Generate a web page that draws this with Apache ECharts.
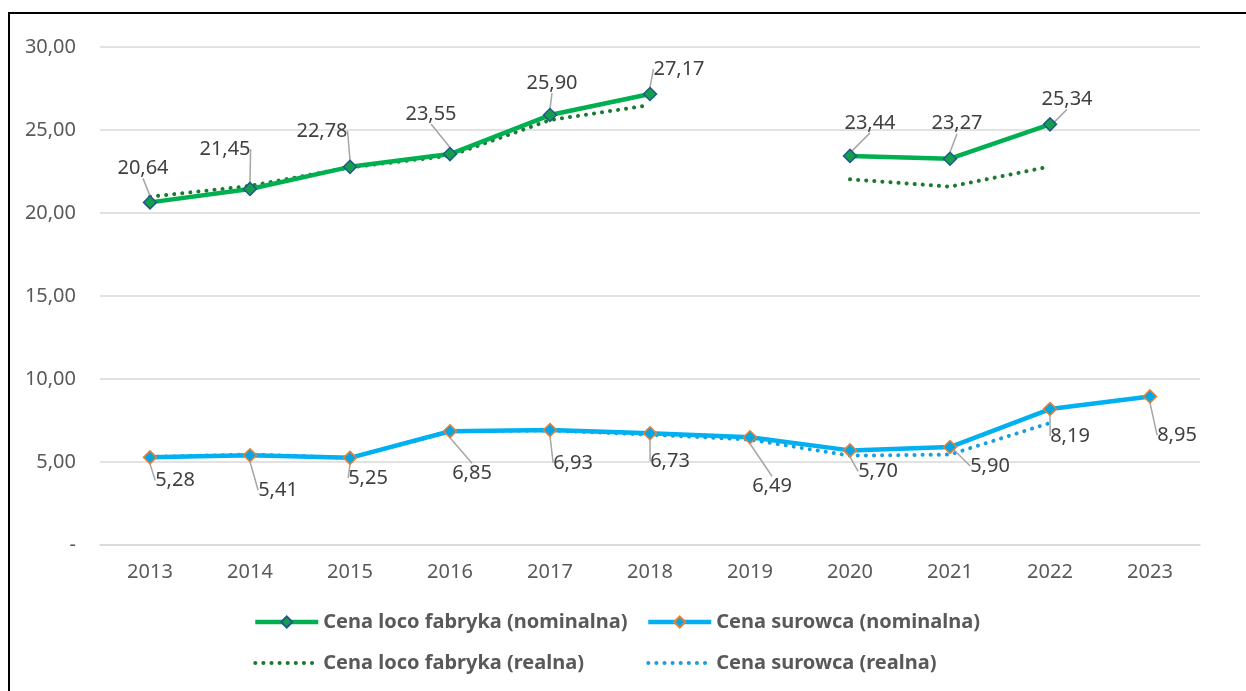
<!DOCTYPE html>
<html>
<head>
<meta charset="utf-8">
<script src="https://cdn.jsdelivr.net/npm/echarts@6/dist/echarts.min.js"></script>
<style>
  html, body { margin: 0; padding: 0; background: #fff; }
  #chart { width: 1246px; height: 691px; }
</style>
</head>
<body>
<div id="chart"></div>
<script>
const years = ['2013', '2014', '2015', '2016', '2017', '2018', '2019', '2020', '2021', '2022', '2023']
// ceny nominalne i realne
const fabrykaNominalna = [20.64, 21.45, 22.78, 23.55, 25.90, 27.17, null, 23.44, 23.27, 25.34, null]
const fabrykaRealna = [20.98, 21.63, 22.75, 23.45, 25.6, 26.5, null, 22.03, 21.59, 22.8, null]
const surowiecNominalna = [5.28, 5.41, 5.25, 6.85, 6.93, 6.73, 6.49, 5.70, 5.90, 8.19, 8.95]
const surowiecRealna = [5.3, 5.45, 5.25, 6.85, 6.9, 6.65, 6.35, 5.38, 5.45, 7.35, null]

// przesunięcia etykiet [dx, dy]
const fabrykaOffsets = [[-7, -34], [-25, -40], [-28, -36], [-19, -40], [2, -32], [29, -25], [0, 0], [20, -33], [7, -35], [17, -25], [0, 0]]
const surowiecOffsets = [[25, 23], [28, 35], [18, 20], [22, 42], [23, 33], [20, 28], [22, 49], [28, 21], [40, 19], [20, 27], [27, 39]]

const font = 'Noto Sans'
const fmt = v => v.toFixed(2).replace('.', ',')

const chart = echarts.init(document.getElementById('chart'))

function valueLabel(offsets) {
  return {
    label: {
      show: true,
      position: 'inside',
      fontFamily: font,
      fontSize: 20,
      color: '#404040',
      formatter: p => fmt(p.value)
    },
    labelLine: {
      show: true,
      lineStyle: {color: '#a6a6a6', width: 1.5}
    },
    labelLayout: p => ({dx: offsets[p.dataIndex][0], dy: offsets[p.dataIndex][1]})
  }
}

const legendText = {fontFamily: font, fontSize: 20, fontWeight: 'bold', color: '#595959', lineHeight: 22}
const dotsLegend = {width: 4, type: [0.1, 8], cap: 'round'}
const solidLegend = {width: 4.5}

const option = {
  animation: false,
  graphic: [{
    type: 'rect',
    shape: {x: 9, y: 13, width: 1260, height: 700},
    style: {fill: 'none', stroke: '#000', lineWidth: 2},
    silent: true
  }],
  grid: {left: 100, right: 46, top: 47, bottom: 146},
  legend: [
    {
      orient: 'vertical', left: 248, top: 606, itemGap: 19,
      itemWidth: 63, itemHeight: 14, textStyle: legendText,
      data: [
        {name: 'Cena loco fabryka (nominalna)', lineStyle: solidLegend},
        {name: 'Cena loco fabryka (realna)', itemStyle: {opacity: 0}, lineStyle: dotsLegend}
      ]
    },
    {
      orient: 'vertical', left: 641, top: 606, itemGap: 19,
      itemWidth: 63, itemHeight: 14, textStyle: legendText,
      data: [
        {name: 'Cena surowca (nominalna)', lineStyle: solidLegend},
        {name: 'Cena surowca (realna)', itemStyle: {opacity: 0}, lineStyle: dotsLegend}
      ]
    }
  ],
  xAxis: {
    type: 'category',
    data: years,
    boundaryGap: true,
    axisLine: {lineStyle: {color: '#d9d9d9', width: 1.5}},
    axisTick: {show: false},
    axisLabel: {fontFamily: font, fontSize: 20, color: '#595959', margin: 17}
  },
  yAxis: {
    type: 'value',
    min: 0,
    max: 30,
    interval: 5,
    axisLine: {show: false},
    axisTick: {show: false},
    splitLine: {lineStyle: {color: '#d9d9d9', width: 1.5}},
    axisLabel: {
      fontFamily: font, fontSize: 20, color: '#595959', margin: 24,
      formatter: v => v === 0 ? '-' : fmt(v)
    }
  },
  series: [
    {
      name: 'Cena loco fabryka (realna)',
      type: 'line',
      data: fabrykaRealna,
      symbol: 'none',
      lineStyle: {color: '#1b7a31', width: 4, type: [0.1, 8], cap: 'round'},
      itemStyle: {color: '#1b7a31'}
    },
    {
      name: 'Cena surowca (realna)',
      type: 'line',
      data: surowiecRealna,
      symbol: 'none',
      lineStyle: {color: '#1a9fe0', width: 4, type: [0.1, 8], cap: 'round'},
      itemStyle: {color: '#1a9fe0'}
    },
    {
      name: 'Cena loco fabryka (nominalna)',
      type: 'line',
      data: fabrykaNominalna,
      symbol: 'diamond',
      symbolSize: 13,
      lineStyle: {color: '#00b050', width: 4.5},
      itemStyle: {color: '#14a04a', borderColor: '#1f5a8c', borderWidth: 1.5},
      ...valueLabel(fabrykaOffsets)
    },
    {
      name: 'Cena surowca (nominalna)',
      type: 'line',
      data: surowiecNominalna,
      symbol: 'diamond',
      symbolSize: 13,
      lineStyle: {color: '#00b0f0', width: 4.5},
      itemStyle: {color: '#00a8e8', borderColor: '#ed7d31', borderWidth: 1.5},
      ...valueLabel(surowiecOffsets)
    }
  ]
}

chart.setOption(option)
</script>
</body>
</html>
